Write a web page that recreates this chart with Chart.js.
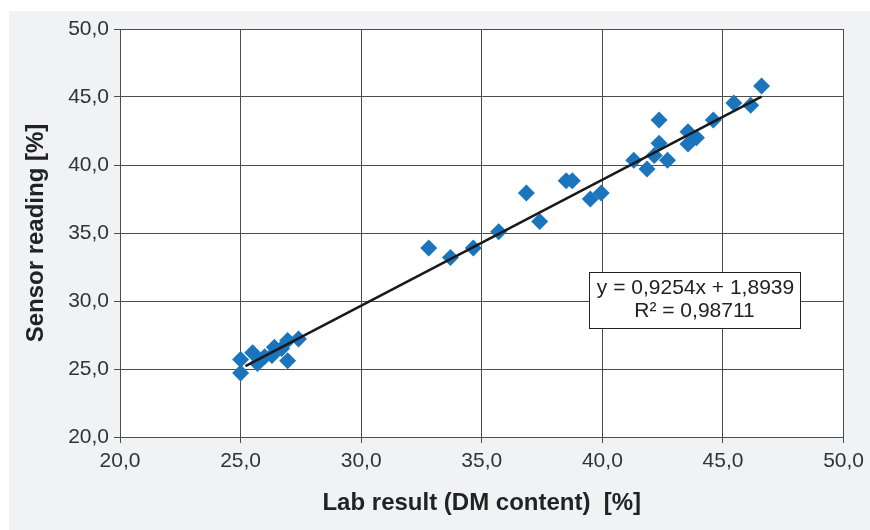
<!DOCTYPE html>
<html>
<head>
<meta charset="utf-8">
<script src="https://cdn.jsdelivr.net/npm/chart.js@4/dist/chart.umd.min.js"></script>
<style>
  html, body { margin: 0; padding: 0; background: #fff; }
  #panel { position: absolute; left: 9px; top: 11px; right: 0; bottom: 0; background: #f1f2f4; }
  #wrap { position: absolute; left: 0; top: 0; width: 870px; height: 530px; }
</style>
</head>
<body>
<div id="panel"></div>
<div id="wrap"><canvas id="chart" width="870" height="530"></canvas></div>
<script>
// lab result (x) vs sensor reading (y)
const labX = [25.0, 25.0, 25.5, 25.7, 26.0, 26.4, 26.3, 26.7, 26.95, 26.95, 27.4,
  32.8, 33.7, 34.65, 35.7, 36.85, 37.4, 38.5, 38.75, 39.5, 39.95,
  41.3, 41.85, 42.15, 42.35, 42.35, 42.7, 43.55, 43.55, 43.9, 44.6, 45.45, 46.15, 46.6];
const sensorY = [25.7, 24.7, 26.2, 25.4, 25.9, 26.6, 26.0, 26.5, 27.1, 25.6, 27.2,
  33.9, 33.2, 33.9, 35.1, 37.95, 35.85, 38.85, 38.85, 37.5, 37.95,
  40.35, 39.7, 40.7, 41.6, 43.3, 40.35, 42.45, 41.55, 42.0, 43.3, 44.55, 44.4, 45.8];
const trendX = [25.2, 46.6];
const trendY = [25.21, 45.02];
const fitLines = ['y = 0,9254x + 1,8939', 'R\u00b2 = 0,98711'];

const FONT = "'Liberation Sans', Arial, sans-serif";
const GRID = '#4d4d4d';
const fmt = v => v.toFixed(1).replace('.', ',');

const plotBg = {
  id: 'plotBg',
  beforeDraw(chart) {
    const { ctx, chartArea: a } = chart;
    ctx.save();
    ctx.fillStyle = '#fff';
    ctx.fillRect(a.left, a.top, a.right - a.left, a.bottom - a.top);
    ctx.restore();
  },
};

const fitBox = {
  id: 'fitBox',
  afterDatasetsDraw(chart) {
    const { ctx } = chart;
    const x = 589, y = 272, w = 211, h = 56;
    ctx.save();
    ctx.fillStyle = '#fff';
    ctx.fillRect(x, y, w, h);
    ctx.strokeStyle = '#222';
    ctx.lineWidth = 1;
    ctx.strokeRect(x + 0.5, y + 0.5, w, h);
    ctx.fillStyle = '#222';
    ctx.font = '21px ' + FONT;
    ctx.textAlign = 'center';
    ctx.textBaseline = 'middle';
    ctx.fillText(fitLines[0], x + w / 2 + 1, y + 16);
    ctx.fillText(fitLines[1], x + w / 2, y + 39);
    ctx.restore();
  },
};

new Chart(document.getElementById('chart').getContext('2d'), {
  type: 'scatter',
  data: {
    datasets: [
      {
        label: 'Readings',
        data: labX.map((x, i) => ({ x, y: sensorY[i] })),
        pointStyle: 'rectRot',
        pointRadius: 8.5,
        pointHoverRadius: 8.5,
        backgroundColor: '#1b75bc',
        borderColor: '#1b75bc',
        borderWidth: 0,
        order: 2,
      },
      {
        label: 'Trend',
        type: 'line',
        data: trendX.map((x, i) => ({ x, y: trendY[i] })),
        borderColor: '#1a1a1a',
        borderWidth: 2.5,
        pointRadius: 0,
        fill: false,
        order: 1,
      },
    ],
  },
  plugins: [plotBg, fitBox],
  options: {
    responsive: false,
    animation: false,
    layout: { padding: { left: 0, top: 29, right: 25, bottom: 0 } },
    plugins: { legend: { display: false }, tooltip: { enabled: false } },
    scales: {
      x: {
        type: 'linear',
        min: 20, max: 50,
        afterFit(s) { s.height = 93; },
        grid: { color: GRID, lineWidth: 1, tickLength: 6, tickColor: GRID },
        border: { color: GRID, width: 1 },
        ticks: { stepSize: 5, padding: 6, color: '#333', font: { family: FONT, size: 21 }, callback: v => fmt(v) },
        title: { display: true, text: 'Lab result (DM content)  [%]', color: '#222',
                 font: { family: FONT, size: 24, weight: 'bold' }, padding: { top: 0, bottom: 12 } },
      },
      y: {
        type: 'linear',
        min: 20, max: 50,
        afterFit(s) { s.width = 120; },
        grid: { color: GRID, lineWidth: 1, tickLength: 6, tickColor: GRID },
        border: { color: GRID, width: 1 },
        ticks: { stepSize: 5, padding: 5, color: '#333', font: { family: FONT, size: 21 }, callback: v => fmt(v) },
        title: { display: true, text: 'Sensor reading [%]', color: '#222',
                 font: { family: FONT, size: 24, weight: 'bold' }, padding: { top: 22, bottom: 0 } },
      },
    },
  },
});
</script>
</body>
</html>
